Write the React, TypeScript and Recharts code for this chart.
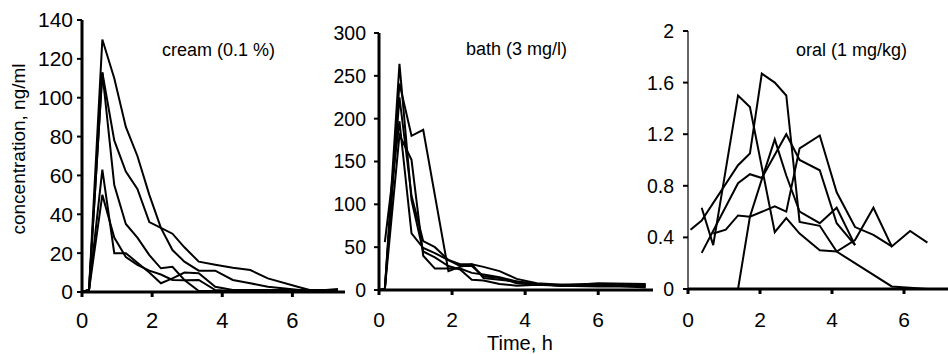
import { LineChart, Line, XAxis, YAxis } from "recharts"

// cream (0.1 %)
const creamTime = [0, 0.2, 0.58, 0.92, 1.25, 1.58, 1.92, 2.25, 2.58, 2.92, 3.33, 3.8, 4.3, 4.8, 5.3, 6.2, 6.6, 7.3]
const cream1 = [0, 1, 130, 110, 85, 70, 50, 33, 21.6, 15.6, 11, 11, 6.2, 4.5, 2.7, 1, 0.5, 1]
const cream2 = [0, 1, 113, 78, 62, 53, 36, 33, 30, 23, 15.6, 14, 12.5, 11.3, 7, 2.4, 0.5, 1.5]
const cream3 = [0, 1, 113, 55, 35, 28, 19, 12.2, 13, 6.2, 0.5, 0.5, 0.5, 0.5, 0.5, 0.5, 0.5, 0.5]
const cream4 = [0, 1, 63, 20, 20, 15, 10, 4.5, 7, 10, 9.6, 2.7, 1, 1, 1, 1, 1, 1]
const cream5 = [0, 1, 50, 28, 18, 14, 11, 9, 6.2, 6, 6.2, 1, 0.5, 0.5, 0.5, 0.5, 0.5, 0.5]

// bath (3 mg/l)
const bathTime = [0, 0.16, 0.56, 0.89, 1.21, 1.53, 1.9, 2.22, 2.54, 2.86, 3.3, 3.77, 4.32, 5, 6, 7.3]
const bath1 = [0, 1, 264, 105, 45, 38, 28, 24, 12, 11, 7, 5, 6, 5, 4, 4]
const bath2 = [0, 1, 241, 180, 187, null, 22, 27, 30, 27, 22, 13, 8, 6, 6, 5]
const bath3 = [0, 1, 225, 110, 57, 50, 35, 30, 30, 14, 12, 10, 7, 5, 8, 7]
const bath4 = [null, 56, 197, 66, 49, 43, 35, 28, 28, 16, 14, 8, 6, 6, 7, 6]
const bath5 = [0, 1, 181, 152, 40, 25, 25, 25, 20, 18, 15, 10, 7, 5, 6, 3]

// oral (1 mg/kg)
const oralTime = [0, 0.07, 0.38, 0.7, 1.05, 1.39, 1.72, 2.05, 2.41, 2.73, 3.1, 3.66, 4.13, 4.64, 5.15, 5.66, 6.17, 6.65]
const oral1 = [null, 0.46, 0.53, null, null, 0.96, 1.05, 1.67, 1.6, 1.5, 0.52, 0.49, 0.29, null, null, 0.02, 0.01, 0]
const oral2 = [null, null, 0.63, 0.34, null, 1.5, 1.41, null, 0.44, 0.55, 0.43, 0.3, 0.29, 0.38, 0.63, 0.33, 0.45, 0.36]
const oral3 = [0, 0, 0, 0, 0, 0, 0.56, 0.85, 1.16, 0.88, 0.6, 0.51, 0.63, 0.34, null, null, null, null]
const oral4 = [null, null, 0.28, null, null, 0.82, 0.89, 0.86, null, 1.2, 1.0, 0.92, 0.51, 0.34, null, null, null, null]
const oral5 = [null, null, null, 0.43, 0.46, 0.57, 0.56, null, 0.64, 0.6, 1.09, 1.19, 0.75, 0.48, 0.42, 0.33, null, null]

const xTicks = [0, 2, 4, 6]
const creamTicks = [0, 20, 40, 60, 80, 100, 120, 140]
const bathTicks = [0, 50, 100, 150, 200, 250, 300]
const oralTicks = [0, 0.4, 0.8, 1.2, 1.6, 2]

const font = "'Liberation Sans', Arial, sans-serif"
const keys = ["s1", "s2", "s3", "s4", "s5"]

function rows(time: number[], series: (number | null)[][]) {
    return time.map((t, i) => {
        const r: Record<string, number | null> = { t }
        series.forEach((s, j) => { r[keys[j]] = s[i] })
        return r
    })
}

type PanelProps = {
    data: Record<string, number | null>[]
    left: number
    width: number
    yWidth: number
    top: number
    bottom: number
    yMax: number
    yTicks: number[]
    yAxisWidth: number
    yFont: number
    xFont: number
    yMargin: number
    xMargin: number
}

function Panel(p: PanelProps) {
    return (
        <div style={{ position: "absolute", left: p.left, top: 0 }}>
            <LineChart width={p.width} height={354} data={p.data}
                margin={{ top: p.top, right: 0, left: 0, bottom: p.bottom }}>
                <XAxis
                    dataKey="t"
                    type="number"
                    domain={[0, 7.5]}
                    ticks={xTicks}
                    height={40}
                    stroke="#000"
                    strokeWidth={3}
                    axisLine={{ stroke: "#000", strokeWidth: 3 }}
                    tickLine={{ stroke: "#000", strokeWidth: 3 }}
                    tickSize={5}
                    tickMargin={p.xMargin}
                    tick={{ fill: "#000", stroke: "none", fontSize: p.xFont, fontFamily: font }}
                />
                <YAxis
                    type="number"
                    domain={[0, p.yMax]}
                    ticks={p.yTicks}
                    width={p.yWidth}
                    stroke="#000"
                    strokeWidth={p.yAxisWidth}
                    axisLine={{ stroke: "#000", strokeWidth: p.yAxisWidth }}
                    tickLine={{ stroke: "#000", strokeWidth: 2 }}
                    tickSize={5}
                    tickMargin={p.yMargin}
                    tick={{ fill: "#000", stroke: "none", fontSize: p.yFont, fontFamily: font }}
                />
                {keys.map(k => (
                    <Line key={k} type="linear" dataKey={k} stroke="#000" strokeWidth={2}
                        dot={false} connectNulls isAnimationActive={false} />
                ))}
            </LineChart>
        </div>
    )
}

const title = { position: "absolute" as const, fontFamily: font, fontSize: 18, color: "#000", whiteSpace: "nowrap" as const }

export default function App() {
    return (
        <div style={{ position: "absolute", left: 0, top: 0, width: 948, height: 354, overflow: "hidden", background: "#fff" }}>
            <Panel data={rows(creamTime, [cream1, cream2, cream3, cream4, cream5])}
                left={0} width={345} yWidth={82} top={20} bottom={22} yMax={140} yTicks={creamTicks}
                yAxisWidth={3} yFont={21} xFont={22} yMargin={4} xMargin={15} />
            <Panel data={rows(bathTime, [bath1, bath2, bath3, bath4, bath5])}
                left={300} width={353} yWidth={79} top={33} bottom={24} yMax={300} yTicks={bathTicks}
                yAxisWidth={3} yFont={19.5} xFont={21} yMargin={8} xMargin={17} />
            <Panel data={rows(oralTime, [oral1, oral2, oral3, oral4, oral5])}
                left={620} width={338} yWidth={68} top={31} bottom={25} yMax={2} yTicks={oralTicks}
                yAxisWidth={1.2} yFont={19.5} xFont={21} yMargin={9} xMargin={18} />
            <div style={{ ...title, left: 162, top: 40 }}>cream (0.1 %)</div>
            <div style={{ ...title, left: 466, top: 39 }}>bath (3 mg/l)</div>
            <div style={{ ...title, left: 796, top: 40 }}>oral (1 mg/kg)</div>
            <div style={{ ...title, fontSize: 19, left: 19, top: 149, transform: "translate(-50%, -50%) rotate(-90deg)" }}>
                concentration, ng/ml
            </div>
            <div style={{ ...title, fontSize: 20, left: 520, top: 343, transform: "translate(-50%, -50%)" }}>Time, h</div>
        </div>
    )
}
